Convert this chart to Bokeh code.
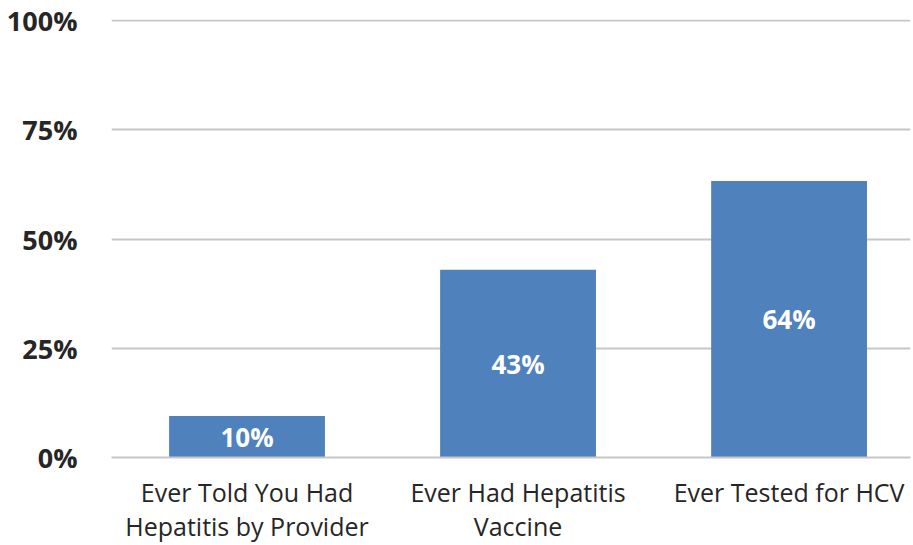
from bokeh.plotting import figure
from bokeh.models import ColumnDataSource, FixedTicker, NumeralTickFormatter, LabelSet, LinearAxis, Range1d
from bokeh.core.properties import value
from bokeh.embed import file_html
from bokeh.resources import INLINE

categories = ["Ever Told You Had Hepatitis by Provider", "Ever Had Hepatitis Vaccine", "Ever Tested for HCV"]
label_line1 = ["Ever Told You Had", "Ever Had Hepatitis", "Ever Tested for HCV"]
label_line2 = ["Hepatitis by Provider", "Vaccine", ""]
values = [0.095, 0.43, 0.633]
value_labels = ["10%", "43%", "64%"]
y_ticks = [0, 0.25, 0.5, 0.75, 1.0]

FONT = "Open Sans"
TXT = "#262626"

xpos = [i + 0.5 for i in range(len(categories))]
src = ColumnDataSource(dict(x=xpos, name=categories, val=values,
                            mid=[v / 2 for v in values], lab=value_labels))

p = figure(x_range=Range1d(0, 2.948), y_range=(0, 1.003),
           output_backend="svg", toolbar_location=None,
           min_border_left=111, min_border_right=1, min_border_top=19, min_border_bottom=0)
p.frame_width = 799
p.frame_height = 438

p.vbar(x="x", top="val", width=0.575, source=src, fill_color="#4F81BD", line_color=None)

labels = LabelSet(x="x", y="mid", text="lab", source=src, text_align="center", text_baseline="middle",
                  text_color="white", text_font_size="26px", text_font_style="bold", text_font=value(FONT))
p.add_layout(labels)

p.outline_line_color = None
p.xgrid.grid_line_color = None
p.ygrid.grid_line_color = "#c6c6c6"
p.ygrid.grid_line_width = 2

p.yaxis.ticker = FixedTicker(ticks=y_ticks)
p.yaxis.formatter = NumeralTickFormatter(format="0%")
p.yaxis.axis_line_color = None
p.yaxis.major_tick_line_color = None
p.yaxis.minor_tick_line_color = None
p.yaxis.major_label_standoff = 28
p.yaxis.major_label_text_font = FONT
p.yaxis.major_label_text_font_size = "27px"
p.yaxis.major_label_text_font_style = "bold"
p.yaxis.major_label_text_color = TXT

xa = p.xaxis[0]
xa.ticker = FixedTicker(ticks=xpos)
xa.major_label_overrides = {x: t for x, t in zip(xpos, label_line1)}
xa.axis_line_color = "#c6c6c6"
xa.axis_line_width = 2
xa.major_tick_line_color = None
xa.minor_tick_line_color = None
xa.major_label_standoff = 11
xa.major_label_text_font = FONT
xa.major_label_text_font_size = "25px"
xa.major_label_text_color = TXT

ax2 = LinearAxis(ticker=FixedTicker(ticks=xpos),
                 major_label_overrides={x: t for x, t in zip(xpos, label_line2)},
                 axis_line_color=None, major_tick_line_color=None,
                 minor_tick_line_color=None, major_label_standoff=-9, major_label_text_font=FONT,
                 major_label_text_font_size="25px", major_label_text_color=TXT)
p.add_layout(ax2, "below")

open("out.html", "w").write(file_html(p, INLINE))
